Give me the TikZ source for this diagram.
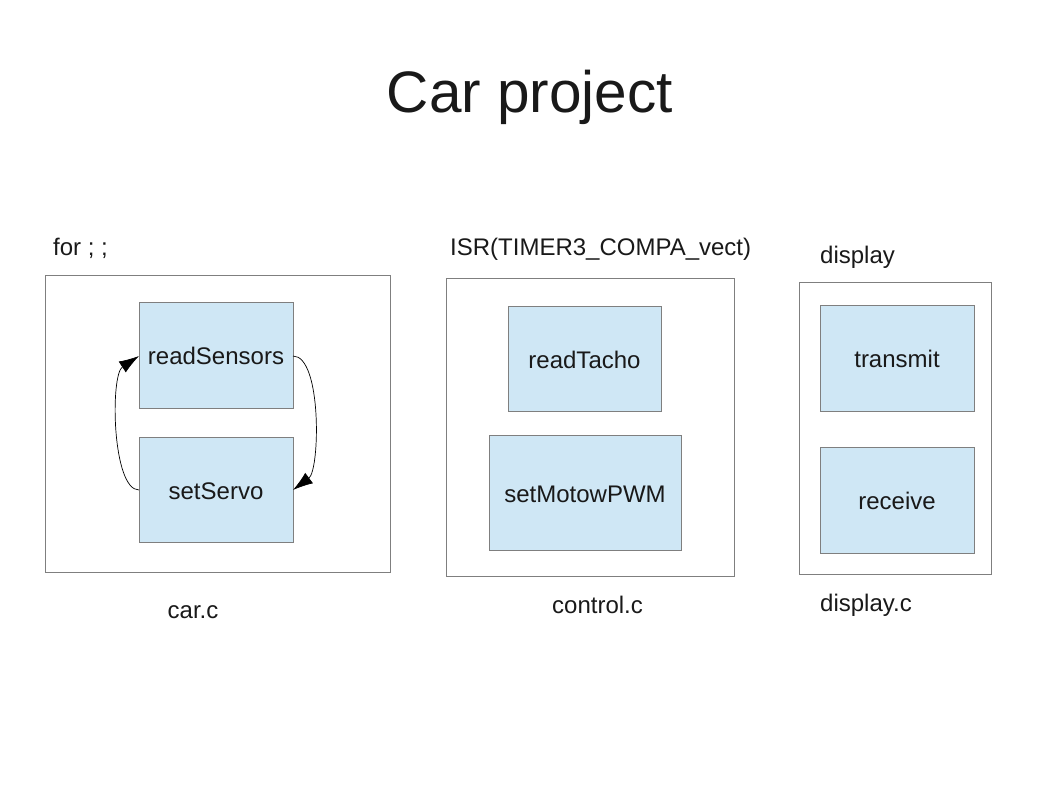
\documentclass[tikz,border=0pt]{standalone}
\usepackage{fontspec}
\setmainfont{Liberation Sans}
\usetikzlibrary{arrows.meta}
\definecolor{boxfill}{HTML}{CFE7F5}
\definecolor{boxline}{HTML}{7F7F7F}
\begin{document}
\begin{tikzpicture}[x=1pt,y=-1pt,
  outerbox/.style={draw=boxline,line width=0.8pt},
  fnbox/.style={draw=boxline,fill=boxfill,line width=0.8pt},
  lbl/.style={font=\fontsize{24}{28}\selectfont,text=black!90,inner sep=0pt},
  flow/.style={-{Latex[length=20pt,width=13pt]},line width=0.7pt}]
\useasboundingbox (0,0) rectangle (1058,794);
% title
\node[font=\fontsize{58.5}{64}\selectfont,text=black!90,inner sep=0pt] (title) at (530,97) {Car project};
% left group
\draw[outerbox] (45,275) rectangle (390,572);
\draw[fnbox] (139,302) rectangle (293,408);
\draw[fnbox] (139,437) rectangle (293,542);
\node[lbl] (rs) at (216,356) {readSensors};
\node[lbl] (ss) at (216,491) {setServo};
\coordinate (rsw) at (139,356);
\coordinate (rse) at (293,356);
\coordinate (ssw) at (139,490);
\coordinate (sse) at (293,490);
\draw[flow] (ssw) .. controls (112,490) and (110,375) .. (rsw);
\draw[flow] (rse) .. controls (322,356) and (320,470) .. (sse);
\node[lbl,anchor=west] (forl) at (53,248) {for ; ;};
\node[lbl] (carc) at (193,612) {car.c};
% middle group
\draw[outerbox] (446,278) rectangle (734,576);
\draw[fnbox] (508,306) rectangle (661,411);
\draw[fnbox] (489,435) rectangle (681,550);
\node[lbl] (rt) at (584.5,360) {readTacho};
\node[lbl] (sm) at (585,494) {setMotowPWM};
\node[lbl,anchor=west] (isr) at (450,249) {ISR(TIMER3\_COMPA\_vect)};
\node[lbl,anchor=west] (ctl) at (552,605) {control.c};
% right group
\draw[outerbox] (799,282) rectangle (991,574);
\draw[fnbox] (820,305) rectangle (974,411);
\draw[fnbox] (820,447) rectangle (974,553);
\node[lbl] (tx) at (897,359) {transmit};
\node[lbl] (rx) at (897,501) {receive};
\node[lbl,anchor=west] (disp) at (820,257) {display};
\node[lbl,anchor=west] (dispc) at (820,605) {display.c};
\end{tikzpicture}
\end{document}
